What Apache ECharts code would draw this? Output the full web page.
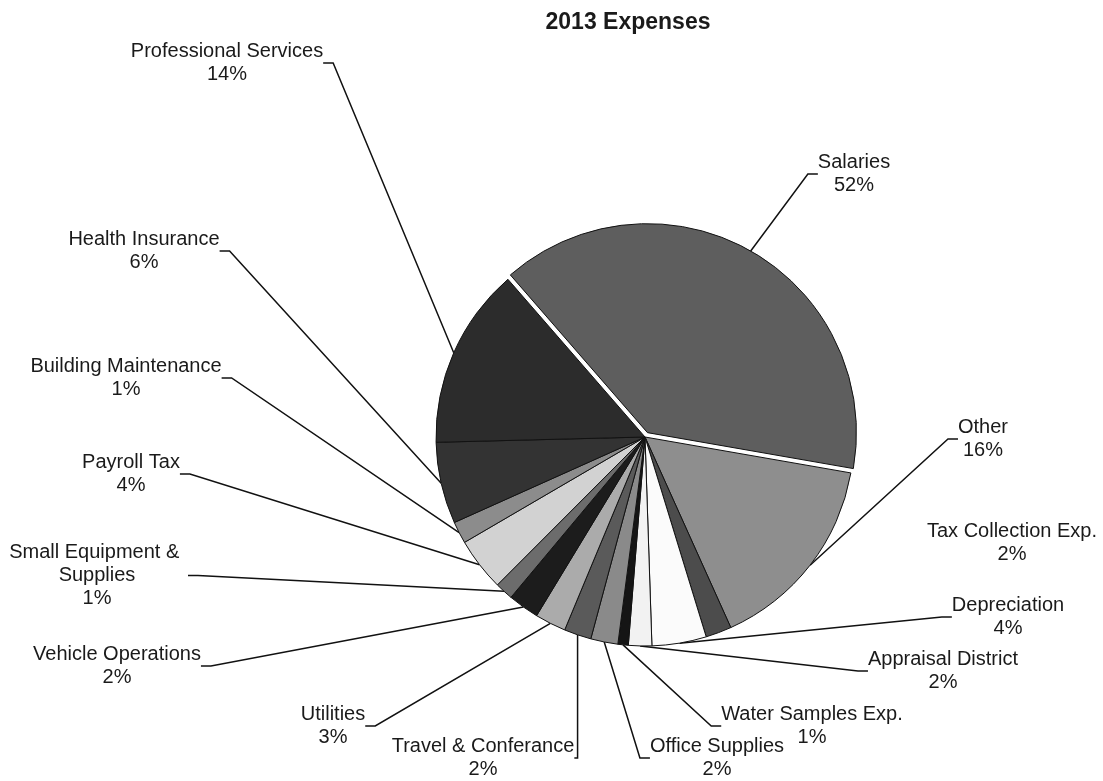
<!DOCTYPE html>
<html><head><meta charset="utf-8">
<script src="https://cdn.jsdelivr.net/npm/echarts@6/dist/echarts.min.js"></script>
<style>html,body{margin:0;padding:0;background:#fff}#c{width:1103px;height:781px}</style>
</head><body><div id="c"></div>
<script>
// ---- data ----
const categories = ['Salaries','Other','Tax Collection Exp.','Depreciation','Appraisal District','Water Samples Exp.','Office Supplies','Travel & Conferance','Utilities','Vehicle Operations','Small Equipment & Supplies','Payroll Tax','Building Maintenance','Health Insurance','Professional Services'];
// percentages as printed on the labels
const printedPct = [52,16,2,4,2,1,2,2,3,2,1,4,1,6,14];
// slice sizes as drawn (measured from the slice angles)
const sliceShares = [39.1,15.5,2.0,4.2,1.8,0.8,2.1,2.1,2.4,2.4,1.4,4.1,1.7,6.3,14.0];

// ---- styles / layout (not data) ----
const fills = ['#5e5e5e','#8e8e8e','#4c4c4c','#fbfbfb','#f2f2f2','#151515','#8a8a8a','#5a5a5a','#ababab','#1c1c1c','#6c6c6c','#d2d2d2','#8c8c8c','#333333','#2c2c2c'];
// label block: centre x, top y
const labelPos = [[854,151],[983,416],[1012,520],[1008,594],[943,648],[812,703],[717,735],[483,735],[333,703],[117,643],[97,541],[131,451],[126,355],[144,228],[227,40]];
const labelWidth = {10: 182};
const noLine = {2: true};
const explodedIndex = 0;   // Salaries is pulled out of the pie
const explodeDist = 5;
const CX = 645, CY = 437, R = 209, START = 131;
const FONT = 'Liberation Sans, Arial, sans-serif';

const total = sliceShares.reduce((a, b) => a + b, 0);
// screen-angle of the middle of the exploded slice (clockwise from east)
let before = 0;
for (let i = 0; i < explodedIndex; i++) before += sliceShares[i];
const midDeg = (360 - START) + (before + sliceShares[explodedIndex] / 2) / total * 360;
const ox = explodeDist * Math.cos(midDeg * Math.PI / 180);
const oy = explodeDist * Math.sin(midDeg * Math.PI / 180);

const chart = echarts.init(document.getElementById('c'));
const mainData = categories.map((name, i) => {
  const item = {
    name: name,
    value: sliceShares[i],
    itemStyle: i === explodedIndex
      ? { color: 'rgba(0,0,0,0)', borderWidth: 0 }
      : { color: fills[i] }
  };
  if (labelWidth[i]) item.label = { width: labelWidth[i], overflow: 'break' };
  if (noLine[i]) item.labelLine = { show: false };
  return item;
});
const explodedData = [
  { name: categories[explodedIndex], value: sliceShares[explodedIndex], itemStyle: { color: fills[explodedIndex], borderColor: '#111', borderWidth: 1 } },
  { name: 'rest', value: total - sliceShares[explodedIndex], itemStyle: { color: 'rgba(0,0,0,0)', borderWidth: 0 } }
];

chart.setOption({
  animation: false,
  title: {
    text: '2013 Expenses',
    left: 623, top: 6, textAlign: 'center',
    textStyle: { fontFamily: FONT, fontSize: 23, fontWeight: 'bold', color: '#1a1a1a' }
  },
  series: [{
    type: 'pie',
    center: [CX, CY],
    radius: R,
    startAngle: START,
    clockwise: true,
    avoidLabelOverlap: false,
    itemStyle: { borderColor: '#111', borderWidth: 1 },
    emphasis: { disabled: true },
    label: {
      show: true,
      position: 'outside',
      fontFamily: FONT,
      fontSize: 20,
      lineHeight: 23,
      color: '#1a1a1a',
      align: 'center',
      formatter: p => p.name + '\n' + printedPct[p.dataIndex] + '%'
    },
    labelLine: {
      show: true,
      length: 20,
      length2: 10,
      lineStyle: { color: '#111', width: 1.5 }
    },
    labelLayout: function (params) {
      const pos = labelPos[params.dataIndex];
      return { x: pos[0], y: pos[1], align: 'center', verticalAlign: 'top' };
    },
    data: mainData
  }, {
    type: 'pie',
    silent: true,
    center: [CX + ox, CY + oy],
    radius: R,
    startAngle: START,
    clockwise: true,
    label: { show: false },
    labelLine: { show: false },
    emphasis: { disabled: true },
    data: explodedData
  }]
});
</script>
</body></html>
